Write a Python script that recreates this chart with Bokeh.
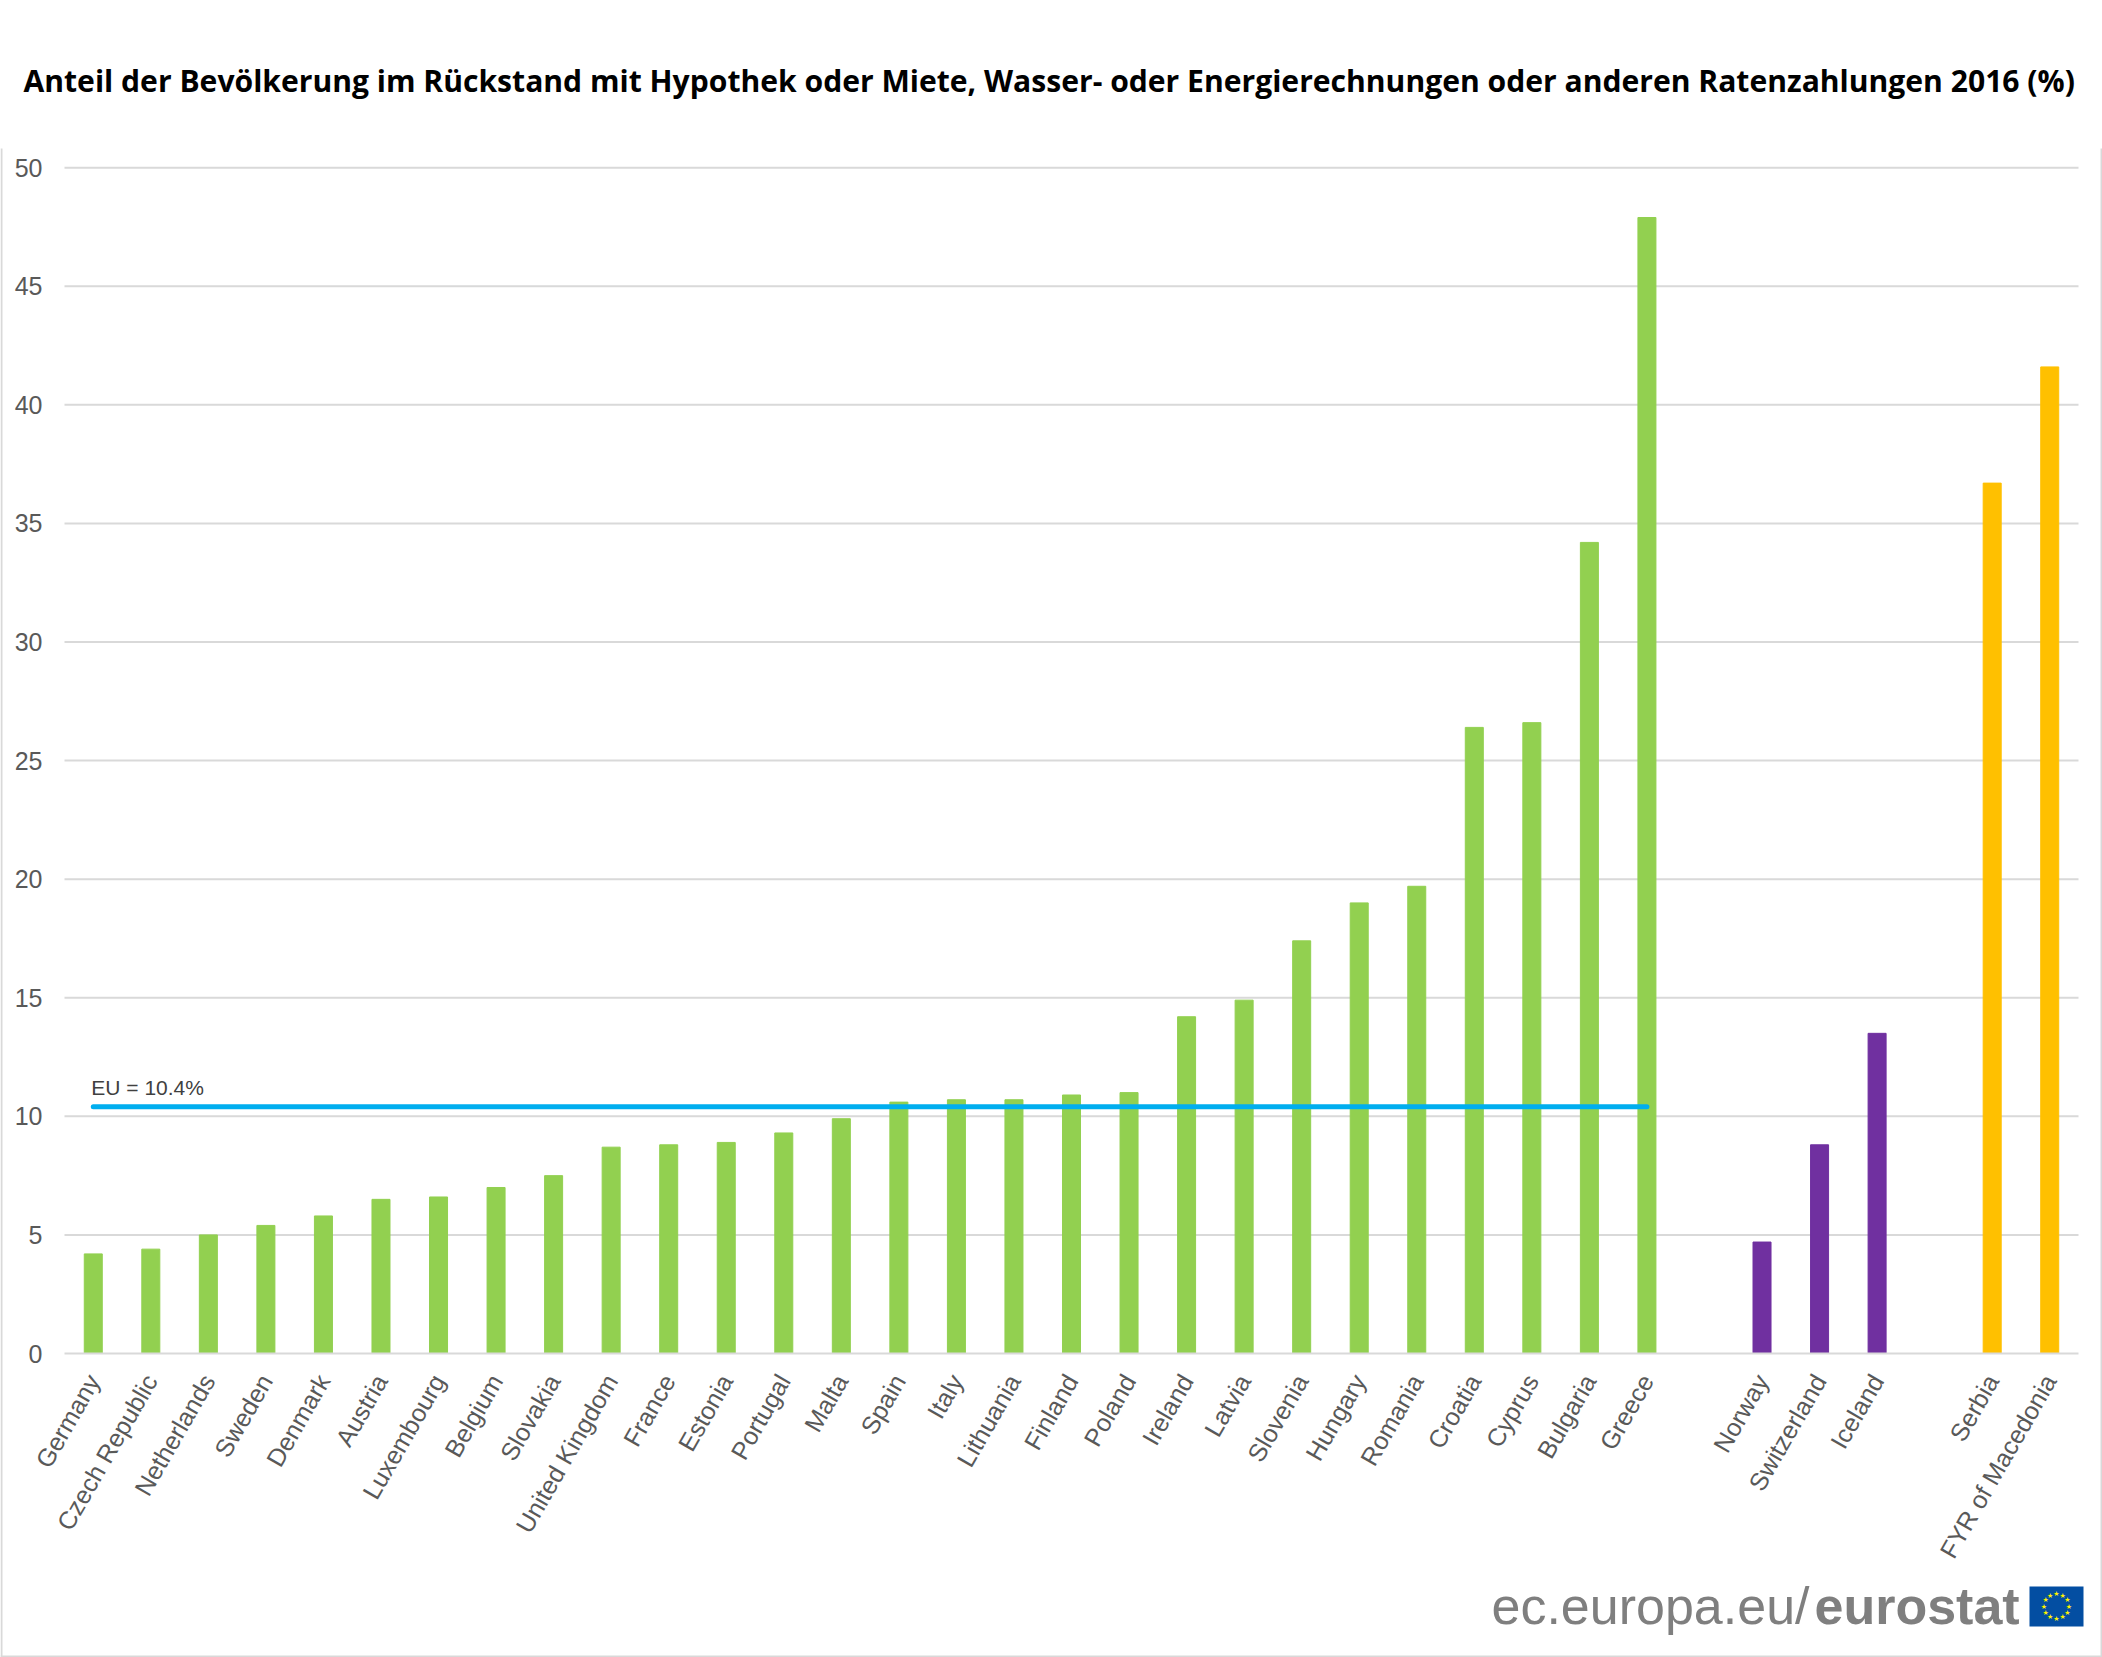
import math
from bokeh.plotting import figure
from bokeh.models import Range1d, Label, BoxAnnotation, FixedTicker
from bokeh.core.properties import value
from bokeh.embed import file_html
from bokeh.resources import INLINE

countries_eu = ["Germany","Czech Republic","Netherlands","Sweden","Denmark","Austria","Luxembourg","Belgium","Slovakia","United Kingdom","France","Estonia","Portugal","Malta","Spain","Italy","Lithuania","Finland","Poland","Ireland","Latvia","Slovenia","Hungary","Romania","Croatia","Cyprus","Bulgaria","Greece"]
values_eu = [4.2,4.4,5.0,5.4,5.8,6.5,6.6,7.0,7.5,8.7,8.8,8.9,9.3,9.9,10.6,10.7,10.7,10.9,11.0,14.2,14.9,17.4,19.0,19.7,26.4,26.6,34.2,47.9]
countries_efta = ["Norway","Switzerland","Iceland"]
values_efta = [4.7,8.8,13.5]
countries_cand = ["Serbia","FYR of Macedonia"]
values_cand = [36.7,41.6]
eu_average = 10.4
y_ticks = [0,5,10,15,20,25,30,35,40,45,50]
title = "Anteil der Bevölkerung im Rückstand mit Hypothek oder Miete, Wasser- oder Energierechnungen oder anderen Ratenzahlungen 2016 (%)"

# category positions: the groups are separated by one empty slot
pos_eu = list(range(len(countries_eu)))
pos_efta = [pos_eu[-1] + 2 + i for i in range(len(countries_efta))]
pos_cand = [pos_efta[-1] + 2 + i for i in range(len(countries_cand))]
n_slots = pos_cand[-1] + 1

W, H = 2102, 1657
PLOT_L, PLOT_R, Y0, Y50, FRAME_TOP = 64, 2078, 1353, 167.2, 140
slot = (PLOT_R - PLOT_L) / n_slots
unit = (Y0 - Y50) / 50
x_range = Range1d(-0.5 - PLOT_L / slot, n_slots - 0.5 + (W - PLOT_R) / slot)
y_range = Range1d(-(H - Y0) / unit, 50 + (Y50 - FRAME_TOP) / unit)

p = figure(width=W, height=H, x_range=x_range, y_range=y_range, output_backend="svg", toolbar_location=None,
           title=title, min_border_left=0, min_border_right=0, min_border_bottom=0, min_border_top=FRAME_TOP)
p.title.text_font = "Open Sans"
p.title.text_font_size = "30.1px"
p.title.text_font_style = "bold"
p.title.text_color = "#000000"
p.title.align = "left"
p.title.offset = 23
p.title.standoff = 79
p.outline_line_color = None
p.background_fill_color = "#FFFFFF"
p.border_fill_color = "#FFFFFF"

GREY = "#D9D9D9"
TICK = "#595959"
p.xgrid.visible = False
p.ygrid.visible = False
gl = [t for t in y_ticks if t > 0]
p.segment(x0=[-0.5] * len(gl), x1=[n_slots - 0.5] * len(gl), y0=gl, y1=gl, line_color=GREY, line_width=2, level="underlay")

p.yaxis.fixed_location = -0.5
p.yaxis.ticker = FixedTicker(ticks=y_ticks)
p.yaxis.axis_line_color = None
p.yaxis.major_tick_line_color = None
p.yaxis.minor_tick_line_color = None
p.yaxis.major_label_text_font = "Liberation Sans"
p.yaxis.major_label_text_font_size = "25px"
p.yaxis.major_label_text_color = TICK
p.yaxis.major_label_standoff = 16

names = countries_eu + countries_efta + countries_cand
positions = pos_eu + pos_efta + pos_cand
p.xaxis.fixed_location = 0
p.xaxis.bounds = (-0.5, n_slots - 0.5)
p.xaxis.ticker = FixedTicker(ticks=positions)
p.xaxis.major_label_overrides = dict(zip(positions, names))
p.xaxis.axis_line_color = GREY
p.xaxis.axis_line_width = 2
p.xaxis.major_tick_line_color = None
p.xaxis.minor_tick_line_color = None
p.xaxis.major_label_text_font = "Liberation Sans"
p.xaxis.major_label_text_font_size = "25px"
p.xaxis.major_label_text_color = TICK
p.xaxis.major_label_orientation = math.radians(60)
p.xaxis.major_label_standoff = 17

BW = 0.313
p.vbar(x=pos_eu, top=values_eu, width=BW, bottom=0, color="#92D050")
p.vbar(x=pos_efta, top=values_efta, width=BW, bottom=0, color="#7030A0")
p.vbar(x=pos_cand, top=values_cand, width=BW, bottom=0, color="#FFC000")
p.line(x=[pos_eu[0], pos_eu[-1]], y=[eu_average, eu_average], line_color="#00AEEF", line_width=5, line_cap="round")
p.text(x=[pos_eu[0]], y=[eu_average], text=["EU = %.1f%%" % eu_average], text_font_size="21px",
       text_font=value("Liberation Sans"), text_color="#404040", x_offset=-2, y_offset=-8, text_baseline="bottom")

# frame of the picture and logo, in pixels of the frame (y from the top)
def box(l, r, t, b, color, level="overlay"):
    p.add_layout(BoxAnnotation(left=l, right=r, top=H-t, bottom=H-b, left_units="screen", right_units="screen",
                               top_units="screen", bottom_units="screen", fill_color=color, fill_alpha=1,
                               line_color=None, level=level))
box(0, 2, 148, H, GREY)
box(0, W, H-2, H, GREY)
box(W-2, W, 148, H, GREY)

LOGO = "#7F7F7F"
LOGO_BASE = 1605
p.add_layout(Label(x=1491, y=H-LOGO_BASE, x_units="screen", y_units="screen", text="ec.europa.eu/", text_font="Liberation Sans",
                   text_font_size="52px", text_color=LOGO, text_baseline="alphabetic"))
p.add_layout(Label(x=1814, y=H-LOGO_BASE, x_units="screen", y_units="screen", text="eurostat", text_font="Liberation Sans",
                   text_font_style="bold", text_font_size="52px", text_color=LOGO, text_baseline="alphabetic"))
fl, fr, ft, fb = 2029, 2083, 1586, 1626
box(fl, fr, ft, fb, "#034EA2", level="annotation")
cx, cy = (fl+fr)/2, (ft+fb)/2
for i in range(12):
    a = math.radians(30*i)
    p.add_layout(Label(x=cx+12.5*math.cos(a), y=H-cy+12.5*math.sin(a), x_units="screen", y_units="screen", text="★",
                       text_font="DejaVu Sans", text_font_size="7px", text_color="#FFF200", text_align="center",
                       text_baseline="middle", level="overlay"))

open("out.html", "w").write(file_html(p, INLINE))
